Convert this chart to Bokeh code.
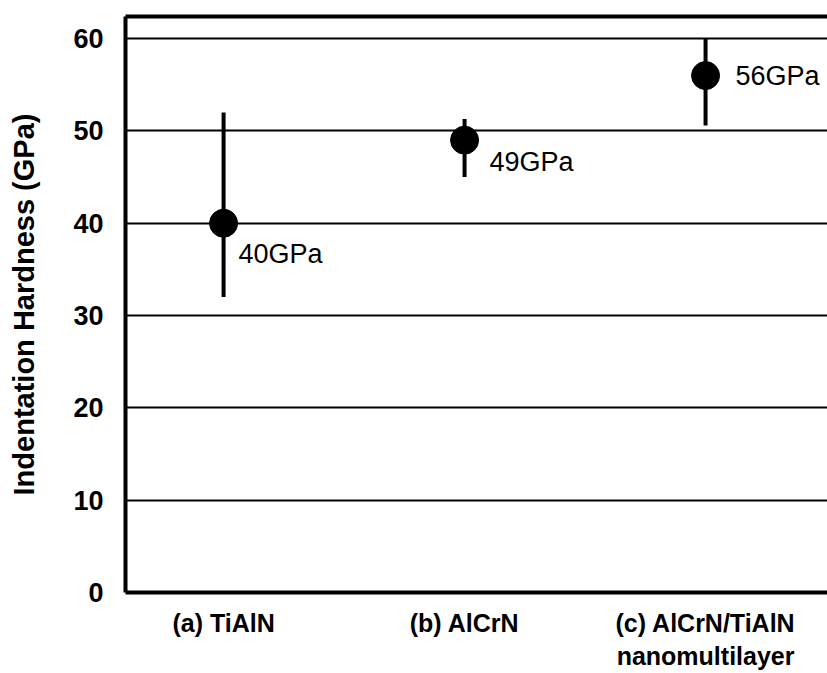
from bokeh.plotting import figure
from bokeh.models import ColumnDataSource, FixedTicker, LinearAxis, Range1d
from bokeh.core.properties import value
from bokeh.embed import file_html
from bokeh.resources import INLINE

# Indentation hardness of the three coatings
coatings = ["(a) TiAlN", "(b) AlCrN", "(c) AlCrN/TiAlN\nnanomultilayer"]
positions = [1, 2, 3]
hardness = [40, 49, 56]
hardness_low = [32, 45, 50.6]
hardness_high = [52, 51.3, 60]
value_labels = ["40GPa", "49GPa", "56GPa"]
y_ticks = [0, 10, 20, 30, 40, 50, 60]

# pixel nudges that place each value label beside its marker
label_dx = [15, 25, 30]
label_dy = [31, 22, 0]

FONT = "Liberation Sans"

src = ColumnDataSource(dict(
    x=positions, y=hardness, low=hardness_low, high=hardness_high,
    txt=value_labels, dx=label_dx, dy=label_dy,
))

p = figure(
    width=827, height=673,
    x_range=Range1d(0.593, 3.506), y_range=Range1d(0, 62.4),
    output_backend="svg", toolbar_location=None,
    min_border_left=125, min_border_right=0,
    min_border_top=16, min_border_bottom=78,
    background_fill_color="white", border_fill_color="white",
)
p.outline_line_color = None

# horizontal rules at every 10 GPa
p.xgrid.visible = False
p.ygrid.ticker = FixedTicker(ticks=y_ticks[1:])
p.ygrid.grid_line_color = "black"
p.ygrid.grid_line_width = 2
p.ygrid.grid_line_alpha = 1.0

# left axis
ya = p.yaxis[0]
ya.ticker = FixedTicker(ticks=y_ticks)
ya.axis_line_width = 4
ya.axis_line_color = "black"
ya.major_tick_line_color = None
ya.minor_tick_line_color = None
ya.major_label_text_font = FONT
ya.major_label_text_font_style = "bold"
ya.major_label_text_font_size = "27px"
ya.major_label_text_color = "black"
ya.major_label_standoff = 16
ya.axis_label = "Indentation Hardness (GPa)"
ya.axis_label_text_font = FONT
ya.axis_label_text_font_style = "bold"
ya.axis_label_text_font_size = "29px"
ya.axis_label_text_color = "black"
ya.axis_label_standoff = 30

# bottom axis with the coating names
xa = p.xaxis[0]
xa.ticker = FixedTicker(ticks=positions)
xa.major_label_overrides = {pos: name for pos, name in zip(positions, coatings)}
xa.axis_line_width = 4
xa.axis_line_color = "black"
xa.major_tick_line_color = None
xa.minor_tick_line_color = None
xa.major_label_text_font = FONT
xa.major_label_text_font_style = "bold"
xa.major_label_text_font_size = "25px"
xa.major_label_text_color = "black"
xa.major_label_standoff = 10

# top border of the frame
top = LinearAxis(ticker=FixedTicker(ticks=[]), axis_line_width=4,
                 axis_line_color="black",
                 major_tick_line_color=None, minor_tick_line_color=None,
                 major_label_text_font_size="0px")
p.add_layout(top, "above")

# error bars, markers and value labels
p.segment(x0="x", y0="low", x1="x", y1="high", source=src,
          line_color="black", line_width=4)
p.scatter(x="x", y="y", source=src, size=28, marker="circle",
          fill_color="black", line_color="black")
p.text(x="x", y="y", text="txt", source=src, x_offset="dx", y_offset="dy",
       text_font=value(FONT), text_font_size="27px", text_color="black",
       text_align="left", text_baseline="middle")

open("out.html", "w").write(file_html(p, INLINE))
